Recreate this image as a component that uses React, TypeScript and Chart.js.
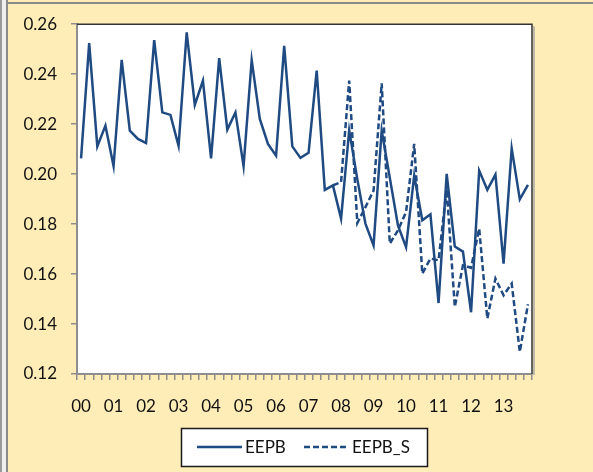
import React, { useEffect, useRef } from 'react';
import { Chart, registerables } from 'chart.js';

Chart.register(...registerables);

const YEARS = ['00', '01', '02', '03', '04', '05', '06', '07', '08', '09', '10', '11', '12', '13'];
const QUARTERS = ['Q1', 'Q2', 'Q3', 'Q4'];
const CATEGORIES = YEARS.flatMap((y) => QUARTERS.map((q) => y + q));

const EEPB = [
  0.2063, 0.2524, 0.2111, 0.2194, 0.2032, 0.2457, 0.2174, 0.2141,
  0.2124, 0.2536, 0.2247, 0.2237, 0.2113, 0.2567, 0.2277, 0.2374,
  0.2063, 0.2464, 0.2178, 0.2247, 0.2032, 0.2456, 0.2221, 0.2121,
  0.2074, 0.2513, 0.2111, 0.2065, 0.2085, 0.2414, 0.1937, 0.1955,
  0.1822, 0.2175, 0.1980, 0.1802, 0.1715, 0.2175, 0.1985, 0.1795,
  0.1708, 0.1994, 0.1815, 0.1839, 0.1484, 0.2001, 0.1710, 0.1690,
  0.1447, 0.2014, 0.1937, 0.1998, 0.1642, 0.2103, 0.1899, 0.1957,
];

const EEPB_S_START = 31;
const EEPB_S_VALUES = [
  0.1955, 0.1968, 0.2374, 0.1804, 0.1868, 0.1934, 0.2363, 0.1722,
  0.1775, 0.1848, 0.2121, 0.1602, 0.1662, 0.1655, 0.1940, 0.1469,
  0.1635, 0.1625, 0.1782, 0.1422, 0.1582, 0.1515, 0.1562, 0.1289,
  0.1479,
];
const EEPB_S = CATEGORIES.map((_, i) => (i < EEPB_S_START ? null : EEPB_S_VALUES[i - EEPB_S_START]));

const Y_MIN = 0.12;
const Y_MAX = 0.26;
const Y_STEP = 0.02;

const SERIES_LABELS = ['EEPB', 'EEPB_S'];

const W = 593;
const H = 472;
const BG = '#FFEDB8';
const LINE = '#1F4A82';
const AXIS = '#8E8E8E';
const FONT = 'Lato, "Liberation Sans", sans-serif';

const framePlugin = {
  id: 'frame',
  beforeDraw(chart: any) {
    const { ctx, chartArea } = chart;
    ctx.save();
    ctx.fillStyle = BG;
    ctx.fillRect(0, 0, W, H);
    // outer frame remnants
    ctx.fillStyle = '#9A9A9A';
    ctx.fillRect(0, 0, 2, H);
    ctx.fillStyle = '#EFEFEF';
    ctx.fillRect(2, 0, 4, H);
    ctx.fillStyle = '#8A8A8A';
    ctx.fillRect(6, 0, 2, H);
    ctx.fillRect(6, 2, W - 6, 2);
    // plot area
    ctx.fillStyle = '#FFFFFF';
    ctx.fillRect(chartArea.left, chartArea.top, chartArea.right - chartArea.left, chartArea.bottom - chartArea.top);
    ctx.restore();
  },
  afterDraw(chart: any) {
    const { ctx, chartArea } = chart;
    const { left, right, top, bottom } = chartArea;
    ctx.save();
    // shadow
    ctx.strokeStyle = '#A8A8A8';
    ctx.lineWidth = 1.5;
    ctx.beginPath();
    ctx.moveTo(right + 2, top + 2);
    ctx.lineTo(right + 2, bottom + 1);
    ctx.stroke();
    // dark border top/right
    ctx.strokeStyle = '#333333';
    ctx.lineWidth = 1.5;
    ctx.beginPath();
    ctx.moveTo(left, top);
    ctx.lineTo(right, top);
    ctx.lineTo(right, bottom);
    ctx.stroke();

    // legend
    const bx = 181, by = 428, bw = 246, bh = 38;
    ctx.fillStyle = '#FFFFFF';
    ctx.fillRect(bx, by, bw, bh);
    ctx.strokeStyle = '#1A1A1A';
    ctx.lineWidth = 1.5;
    ctx.strokeRect(bx + 0.5, by + 0.5, bw, bh);
    const cy = by + bh / 2;
    const starts = [197, 304];
    ctx.font = '17px ' + FONT;
    ctx.textBaseline = 'middle';
    ctx.textAlign = 'left';
    chart.data.datasets.forEach((ds: any, i: number) => {
      const x0 = starts[i];
      ctx.strokeStyle = ds.borderColor;
      ctx.lineWidth = 2.5;
      ctx.setLineDash(ds.borderDash || []);
      ctx.beginPath();
      ctx.moveTo(x0, cy);
      ctx.lineTo(x0 + 45, cy);
      ctx.stroke();
      ctx.setLineDash([]);
      ctx.fillStyle = '#111111';
      ctx.fillText(ds.label, x0 + 48, cy + 1);
    });
    ctx.restore();
  },
};

export default function App() {
  const ref = useRef<HTMLCanvasElement | null>(null);

  useEffect(() => {
    if (!ref.current) return;
    const chart = new Chart(ref.current, {
      type: 'line',
      data: {
        labels: CATEGORIES,
        datasets: [
          {
            label: SERIES_LABELS[0],
            data: EEPB,
            borderColor: LINE,
            borderWidth: 2.5,
            pointRadius: 0,
            tension: 0,
            fill: false,
          },
          {
            label: SERIES_LABELS[1],
            data: EEPB_S,
            borderColor: LINE,
            borderWidth: 2.5,
            borderDash: [6, 3],
            pointRadius: 0,
            tension: 0,
            fill: false,
            spanGaps: false,
          },
        ],
      },
      options: {
        responsive: false,
        animation: false,
        devicePixelRatio: 1,
        layout: { padding: { left: 0, top: 23, right: 61, bottom: 0 } },
        plugins: { legend: { display: false }, tooltip: { enabled: false } },
        scales: {
          x: {
            type: 'category',
            offset: true,
            afterFit(scale: any) {
              scale.height = 98;
            },
            grid: {
              offset: true,
              drawOnChartArea: false,
              drawTicks: true,
              tickLength: 6,
              color: AXIS,
              lineWidth: 1.5,
            },
            border: { display: true, color: AXIS, width: 2 },
            ticks: {
              autoSkip: false,
              maxRotation: 0,
              minRotation: 0,
              padding: 16,
              color: '#111111',
              font: { family: FONT, size: 17 },
              callback: (_v: any, i: number) => (i % 4 === 0 ? YEARS[i / 4] : ''),
            },
          },
          y: {
            min: Y_MIN,
            max: Y_MAX,
            afterFit(scale: any) {
              scale.width = 77;
            },
            grid: {
              drawOnChartArea: false,
              drawTicks: true,
              tickLength: 6,
              color: AXIS,
              lineWidth: 1.5,
            },
            border: { display: true, color: AXIS, width: 2 },
            ticks: {
              stepSize: Y_STEP,
              padding: 14,
              color: '#111111',
              font: { family: FONT, size: 17 },
              callback: (v: any) => Number(v).toFixed(2),
            },
          },
        },
      },
      plugins: [framePlugin],
    } as any);
    return () => chart.destroy();
  }, []);

  return (
    <div style={{ position: 'fixed', left: 0, top: 0, width: W, height: H, background: BG }}>
      <canvas ref={ref} width={W} height={H} style={{ width: W, height: H, display: 'block' }} />
    </div>
  );
}
